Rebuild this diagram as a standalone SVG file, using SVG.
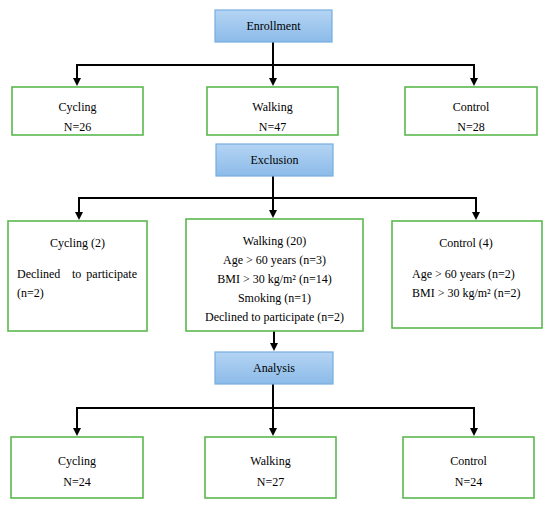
<svg xmlns="http://www.w3.org/2000/svg" width="550" height="507" viewBox="0 0 550 507">
<defs>
<linearGradient id="blueGrad" x1="0" y1="0" x2="0" y2="1">
<stop offset="0" stop-color="#b4d4f3"/>
<stop offset="1" stop-color="#8cbbe9"/>
</linearGradient>
</defs>
<style>
.stage{fill:url(#blueGrad);stroke:#76aee0;stroke-width:1.2}
.box{fill:#fff;stroke:#5ab94e;stroke-width:1.6}
text{font-family:"Liberation Serif","Times New Roman",serif;font-size:12px;fill:#000}
.c{text-anchor:middle}
.ln{stroke:#000;stroke-width:2;fill:none}
.head{fill:#000}
</style>
<rect width="550" height="507" fill="#fff"/>
<g id="connectors">
<path class="ln" d="M273,42 V65"/>
<path class="ln" d="M77,80 V65 H474 V80"/>
<path class="ln" d="M273,65 V80"/>
<path class="ln" d="M273,176 V198"/>
<path class="ln" d="M79,214 V198 H476 V214"/>
<path class="ln" d="M273,198 V212"/>
<path class="ln" d="M274,331 V345"/>
<path class="ln" d="M273,384 V408"/>
<path class="ln" d="M77,430 V408 H474 V430"/>
<path class="ln" d="M273,408 V430"/>
<path class="head" d="M73,78 H81 L77,86 Z M269,78 H277 L273,86 Z M470,78 H478 L474,86 Z"/>
<path class="head" d="M75,212 H83 L79,220 Z M269,210 H277 L273,218 Z M472,212 H480 L476,220 Z"/>
<path class="head" d="M270,343 H278 L274,351 Z"/>
<path class="head" d="M73,428 H81 L77,436 Z M269,428 H277 L273,436 Z M470,428 H478 L474,436 Z"/>
</g>
<g id="enrollment">
<rect class="stage" x="215" y="10" width="117" height="32"/>
<text class="c" x="273.5" y="30">Enrollment</text>
</g>
<g id="cycling1">
<rect class="box" x="12" y="87" width="131" height="48"/>
<text class="c" x="77.5" y="111">Cycling</text>
<text class="c" x="77.5" y="131">N=26</text>
</g>
<g id="walking1">
<rect class="box" x="207" y="87" width="131" height="48"/>
<text class="c" x="272.5" y="111">Walking</text>
<text class="c" x="272.5" y="131">N=47</text>
</g>
<g id="control1">
<rect class="box" x="405" y="87" width="132" height="48"/>
<text class="c" x="471" y="111">Control</text>
<text class="c" x="471" y="131">N=28</text>
</g>
<g id="exclusion">
<rect class="stage" x="216" y="144" width="117" height="32"/>
<text class="c" x="274.5" y="164">Exclusion</text>
</g>
<g id="cycling2">
<rect class="box" x="8" y="221" width="139" height="110"/>
<text class="c" x="77.5" y="247">Cycling (2)</text>
<text y="278"><tspan x="17">Declined</tspan><tspan x="72">to</tspan><tspan x="137" text-anchor="end">participate</tspan></text>
<text x="17" y="297">(n=2)</text>
</g>
<g id="walking2">
<rect class="box" x="186" y="219" width="177" height="112"/>
<text class="c" x="274.5" y="245">Walking (20)</text>
<text class="c" x="274.5" y="264">Age &gt; 60 years (n=3)</text>
<text class="c" x="274.5" y="283">BMI &gt; 30 kg/m² (n=14)</text>
<text class="c" x="274.5" y="302">Smoking (n=1)</text>
<text class="c" x="274.5" y="321">Declined to participate (n=2)</text>
</g>
<g id="control2">
<rect class="box" x="392" y="221" width="150" height="107"/>
<text class="c" x="466" y="247">Control (4)</text>
<text x="412" y="278">Age &gt; 60 years (n=2)</text>
<text x="412" y="297">BMI &gt; 30 kg/m² (n=2)</text>
</g>
<g id="analysis">
<rect class="stage" x="215" y="352" width="118" height="32"/>
<text class="c" x="274" y="372">Analysis</text>
</g>
<g id="cycling3">
<rect class="box" x="11" y="437" width="132" height="61"/>
<text class="c" x="77" y="465">Cycling</text>
<text class="c" x="77" y="486">N=24</text>
</g>
<g id="walking3">
<rect class="box" x="205" y="437" width="131" height="61"/>
<text class="c" x="270.5" y="465">Walking</text>
<text class="c" x="270.5" y="486">N=27</text>
</g>
<g id="control3">
<rect class="box" x="403" y="437" width="131" height="61"/>
<text class="c" x="468.5" y="465">Control</text>
<text class="c" x="468.5" y="486">N=24</text>
</g>
</svg>
